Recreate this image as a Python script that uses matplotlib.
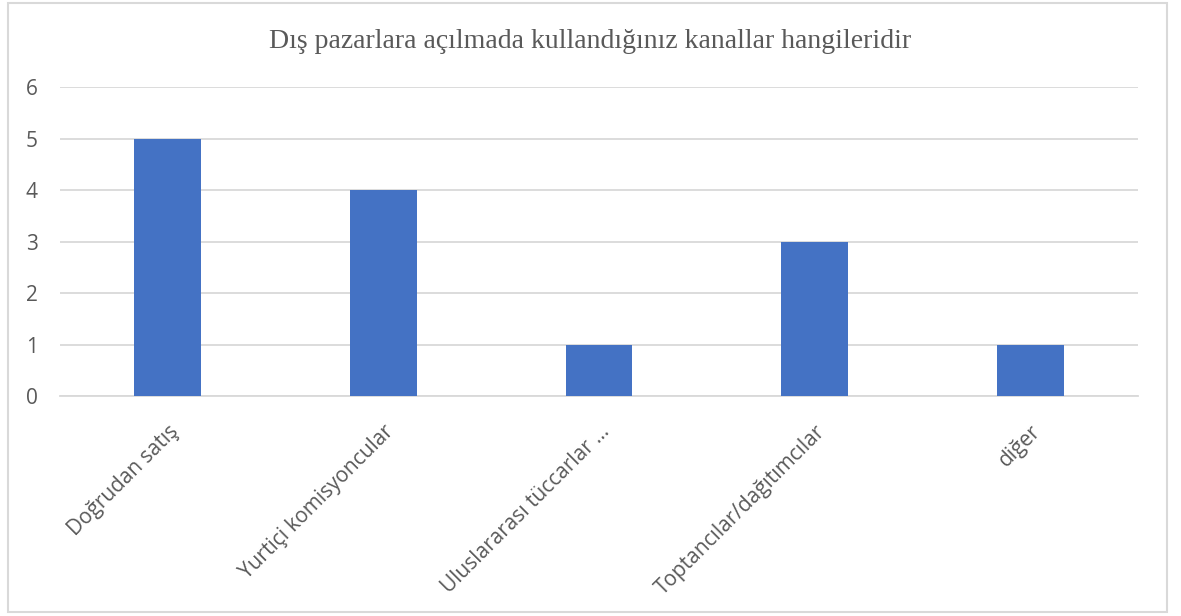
import matplotlib.pyplot as plt
from matplotlib.patches import Rectangle

# data
categories = ['Doğrudan satış', 'Yurtiçi komisyoncular', 'Uluslararası tüccarlar ...',
              'Toptancılar/dağıtımcılar', 'diğer']
counts = [5, 4, 1, 3, 1]
yticks = [0, 1, 2, 3, 4, 5, 6]

TEXT = '#595959'
GRID = '#D9D9D9'

fig = plt.figure(figsize=(11.81, 6.16), dpi=100)
ax = fig.add_axes([0.0508, 0.3571, 0.9128, 0.5016])

x = list(range(len(categories)))
ax.bar(x, counts, width=0.31, color='#4472C4', zorder=3)

ax.set_xlim(-0.5, len(categories) - 0.5)
ax.set_ylim(0, 6)
ax.set_yticks(yticks)
ax.set_yticklabels([str(t) for t in yticks], fontsize=15, color=TEXT, family='Open Sans')
ax.set_xticks(x)
ax.set_xticklabels(categories, rotation=45, ha='right', va='top', rotation_mode='anchor',
                   fontsize=15, color=TEXT, family='Open Sans')
ax.tick_params(axis='both', length=0)
ax.tick_params(axis='y', pad=16)
ax.tick_params(axis='x', pad=18)

ax.grid(axis='y', color=GRID, linewidth=1.3, zorder=0)
for s in ['top', 'right', 'left']:
    ax.spines[s].set_visible(False)
ax.spines['bottom'].set_color(GRID)
ax.spines['bottom'].set_linewidth(1.3)

fig.text(0.5, 0.932, 'Dış pazarlara açılmada kullandığınız kanallar hangileridir',
         ha='center', va='center', fontsize=20, color=TEXT, family='Liberation Serif')

# light border round the chart area
fig.patches.append(Rectangle((8 / 1181, 4 / 616), 1159 / 1181, 609 / 616,
                             transform=fig.transFigure, fill=False,
                             edgecolor=GRID, linewidth=1.5))

fig.savefig('out.png', dpi=100)
